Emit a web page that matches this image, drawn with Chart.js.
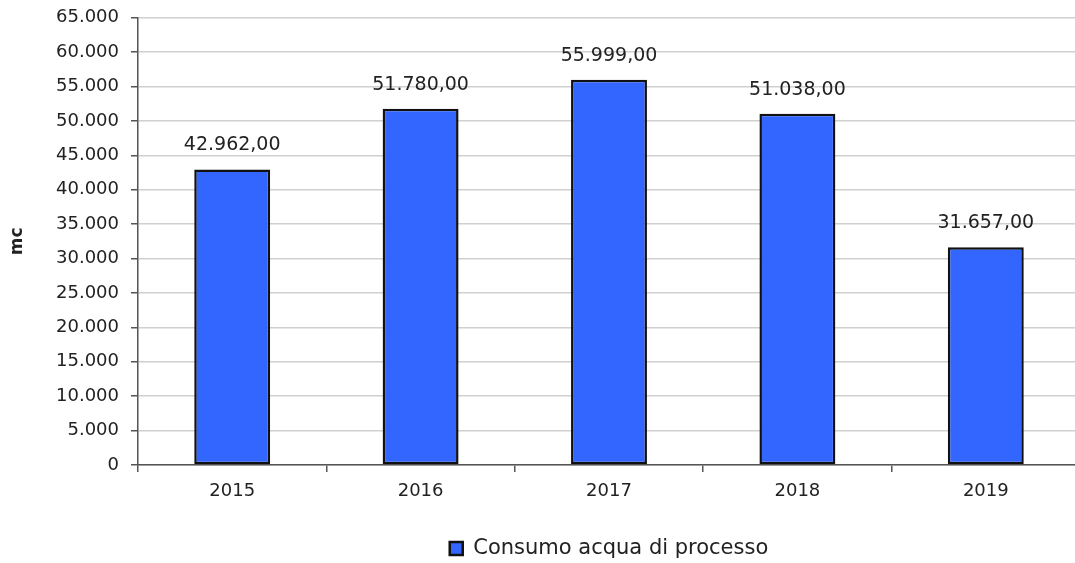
<!DOCTYPE html>
<html>
<head>
<meta charset="utf-8">
<script src="https://cdn.jsdelivr.net/npm/chart.js@4"></script>
<style>
  html, body { margin: 0; padding: 0; background: #fff; overflow: hidden; }
  #wrap { width: 1080px; height: 574px; margin-top: -5px; }
</style>
</head>
<body>
<div id="wrap"><canvas id="barchart"></canvas></div>
<script>
var years = ['2015', '2016', '2017', '2018', '2019'];
var consumo = [42962, 51780, 55999, 51038, 31657];
var seriesLabel = 'Consumo acqua di processo';
var yTitle = 'mc';

// Italian style: dot for thousands, comma for decimals
function fmt(v, dec) {
    var parts = v.toFixed(dec).split('.');
    var s = parts[0].replace(/\B(?=(\d{3})+(?!\d))/g, '.');
    return dec ? s + ',' + parts[1] : s;
}

var barLabels = {
    id: 'barLabels',
    afterDatasetsDraw: function (chart) {
        var ctx = chart.ctx;
        var meta = chart.getDatasetMeta(0);
        ctx.save();
        ctx.font = '19px "DejaVu Sans"';
        ctx.fillStyle = '#222';
        ctx.textAlign = 'center';
        ctx.textBaseline = 'middle';
        meta.data.forEach(function (bar, i) {
            ctx.fillText(fmt(chart.data.datasets[0].data[i], 2), bar.x, bar.y - 24);
        });
        ctx.restore();
    }
};

Chart.defaults.font.family = '"DejaVu Sans"';
Chart.defaults.color = '#222';

var barchart = document.getElementById('barchart').getContext('2d');
var myBarChart = new Chart(barchart, {
    type: 'bar',
    data: {
        labels: years,
        datasets: [{
            label: seriesLabel,
            data: consumo,
            backgroundColor: '#3366ff',
            borderColor: '#111',
            borderWidth: 2.5,
            borderSkipped: false,
            categoryPercentage: 1,
            barPercentage: 0.403
        }]
    },
    options: {
        responsive: true,
        maintainAspectRatio: false,
        animation: false,
        layout: { padding: { top: 11, left: 0, right: 0, bottom: 0 } },
        plugins: {
            tooltip: { enabled: false },
            legend: {
                position: 'bottom',
                fullSize: false,
                labels: {
                    font: { size: 21 },
                    color: '#222',
                    boxWidth: 13,
                    boxHeight: 13,
                    padding: 5
                }
            }
        },
        scales: {
            x: {
                grid: {
                    drawOnChartArea: false,
                    tickColor: '#555',
                    tickLength: 7,
                    lineWidth: 1.5
                },
                border: { color: '#555', width: 1.5 },
                ticks: { font: { size: 18 }, padding: 9, color: '#222' },
                afterFit: function (scale) { scale.height = 68; }
            },
            y: {
                min: 0,
                max: 65000,
                grid: {
                    color: '#d0d0d0',
                    lineWidth: 1.5,
                    tickColor: '#555',
                    tickLength: 7
                },
                border: { color: '#555', width: 1.5 },
                ticks: {
                    stepSize: 5000,
                    font: { size: 18 },
                    padding: 12,
                    color: '#222',
                    callback: function (v) { return fmt(v, 0); }
                },
                title: {
                    display: true,
                    text: yTitle,
                    font: { size: 17, weight: 'bold' },
                    color: '#222',
                    padding: { top: 7, bottom: 0 }
                },
                afterFit: function (scale) { scale.width = 138; }
            }
        }
    },
    plugins: [barLabels]
});
</script>
</body>
</html>
